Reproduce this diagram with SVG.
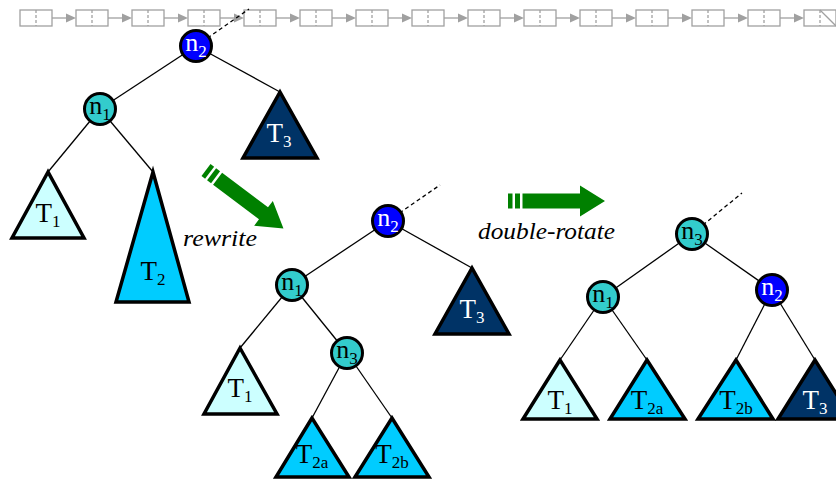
<svg xmlns="http://www.w3.org/2000/svg" xmlns:xlink="http://www.w3.org/1999/xlink" width="836" height="480" viewBox="0 0 836 480">
  <style>
    .cell rect, .cell line { fill: none; stroke: #a0a0a0; stroke-width: 1.3; }
    .cell .div { stroke-dasharray: 3 2; }
    .link { stroke: #a0a0a0; stroke-width: 1.3; }
    .edge { stroke: #000; stroke-width: 1.3; fill: none; }
    .dash { stroke-dasharray: 4 3; }
    .node circle { stroke: #000; stroke-width: 3; }
    .tri polygon { stroke: #000; stroke-width: 3.5; }
    .blue circle { fill: #0000ff; }
    .teal circle { fill: #33cccc; }
    .t-light polygon { fill: #ccffff; }
    .t-cyan polygon { fill: #00ccff; }
    .t-navy polygon { fill: #003366; }
    text { font-family: "Liberation Serif", "DejaVu Serif", serif; text-anchor: middle; }
    .nl { font-size: 26px; fill: #000; }
    .tl { font-size: 27px; fill: #000; }
    .light { fill: #fff; }
    .sub { font-size: 17px; }
    .cap { font-size: 24px; font-style: italic; text-anchor: start; fill: #000; }
  </style>
  <defs>
    <g id="cell" class="cell">
      <rect x="0" y="0" width="32" height="16"/>
      <line class="div" x1="16" y1="0" x2="16" y2="16"/>
    </g>
    <g id="link">
      <line class="link" x1="32" y1="8" x2="47" y2="8"/>
      <polygon points="46,3.5 56,8 46,12.5" fill="#a0a0a0"/>
    </g>
    <g id="bigArrow" fill="#008000">
      <rect x="0" y="-7.5" width="4.5" height="15"/>
      <rect x="7" y="-7.5" width="5" height="15"/>
      <path d="M14.5,-7.5 H72 V-15.5 L97,0 L72,15.5 V7.5 H14.5 Z"/>
    </g>
  </defs>

  <!-- linked list along the top -->
  <g id="list">
    <use xlink:href="#cell" x="20" y="10"/><use xlink:href="#link" x="20" y="10"/>
    <use xlink:href="#cell" x="76" y="10"/><use xlink:href="#link" x="76" y="10"/>
    <use xlink:href="#cell" x="132" y="10"/><use xlink:href="#link" x="132" y="10"/>
    <use xlink:href="#cell" x="188" y="10"/><use xlink:href="#link" x="188" y="10"/>
    <use xlink:href="#cell" x="244" y="10"/><use xlink:href="#link" x="244" y="10"/>
    <use xlink:href="#cell" x="300" y="10"/><use xlink:href="#link" x="300" y="10"/>
    <use xlink:href="#cell" x="356" y="10"/><use xlink:href="#link" x="356" y="10"/>
    <use xlink:href="#cell" x="412" y="10"/><use xlink:href="#link" x="412" y="10"/>
    <use xlink:href="#cell" x="468" y="10"/><use xlink:href="#link" x="468" y="10"/>
    <use xlink:href="#cell" x="524" y="10"/><use xlink:href="#link" x="524" y="10"/>
    <use xlink:href="#cell" x="580" y="10"/><use xlink:href="#link" x="580" y="10"/>
    <use xlink:href="#cell" x="636" y="10"/><use xlink:href="#link" x="636" y="10"/>
    <use xlink:href="#cell" x="692" y="10"/><use xlink:href="#link" x="692" y="10"/>
    <use xlink:href="#cell" x="748" y="10"/><use xlink:href="#link" x="748" y="10"/>
    <use xlink:href="#cell" x="804" y="10"/>
    <!-- null pointer slash in the last cell -->
    <line x1="820" y1="10" x2="836" y2="26" stroke="#a0a0a0" stroke-width="1.3"/>
  </g>

  <!-- connectors -->
  <g id="edges">
    <!-- tree before rewrite -->
    <line class="edge dash" x1="196" y1="46" x2="249" y2="9"/>
    <line class="edge" x1="196" y1="46" x2="100" y2="109"/>
    <line class="edge" x1="196" y1="46" x2="280" y2="92"/>
    <line class="edge" x1="100" y1="109" x2="48" y2="172"/>
    <line class="edge" x1="100" y1="109" x2="153" y2="172"/>
    <!-- rewritten tree -->
    <line class="edge dash" x1="388" y1="221" x2="440" y2="185"/>
    <line class="edge" x1="388" y1="221" x2="292" y2="285"/>
    <line class="edge" x1="388" y1="221" x2="472" y2="268"/>
    <line class="edge" x1="292" y1="285" x2="240" y2="348"/>
    <line class="edge" x1="292" y1="285" x2="347" y2="353"/>
    <line class="edge" x1="347" y1="353" x2="312" y2="418"/>
    <line class="edge" x1="347" y1="353" x2="392" y2="418"/>
    <!-- after double rotation -->
    <line class="edge dash" x1="692" y1="234" x2="742" y2="193"/>
    <line class="edge" x1="692" y1="234" x2="603" y2="297"/>
    <line class="edge" x1="692" y1="234" x2="772" y2="290"/>
    <line class="edge" x1="603" y1="297" x2="560" y2="360"/>
    <line class="edge" x1="603" y1="297" x2="647" y2="360"/>
    <line class="edge" x1="772" y1="290" x2="736" y2="360"/>
    <line class="edge" x1="772" y1="290" x2="815" y2="360"/>
  </g>

  <!-- transformation arrows -->
  <g id="rewrite">
    <use xlink:href="#bigArrow" transform="translate(206,170) rotate(37)"/>
    <text class="cap" x="183" y="246" textLength="74" lengthAdjust="spacingAndGlyphs">rewrite</text>
  </g>
  <g id="double-rotate">
    <use xlink:href="#bigArrow" transform="translate(508,201)"/>
    <text class="cap" x="478" y="239" textLength="137" lengthAdjust="spacingAndGlyphs">double-rotate</text>
  </g>

  <!-- tree before rewrite -->
  <g id="a-T1" class="tri t-light"><polygon points="48,172 12,238 84,238"/><text class="tl" x="48" y="222">T<tspan class="sub" dy="5">1</tspan></text></g>
  <g id="a-T2" class="tri t-cyan"><polygon points="153,172 116,302 189,302"/><text class="tl" x="153" y="280">T<tspan class="sub" dy="5">2</tspan></text></g>
  <g id="a-T3" class="tri t-navy"><polygon points="280,92 243,158 317,158"/><text class="tl light" x="279" y="142">T<tspan class="sub" dy="5">3</tspan></text></g>
  <g id="a-n2" class="node blue"><circle cx="196" cy="46" r="15.5"/><text class="nl light" x="196" y="51">n<tspan class="sub" dy="6">2</tspan></text></g>
  <g id="a-n1" class="node teal"><circle cx="100" cy="109" r="15.5"/><text class="nl" x="100" y="114">n<tspan class="sub" dy="6">1</tspan></text></g>

  <!-- rewritten tree -->
  <g id="b-T3" class="tri t-navy"><polygon points="472,268 435,334 509,334"/><text class="tl light" x="472" y="318">T<tspan class="sub" dy="5">3</tspan></text></g>
  <g id="b-T1" class="tri t-light"><polygon points="240,348 204,414 277,414"/><text class="tl" x="240" y="397">T<tspan class="sub" dy="5">1</tspan></text></g>
  <g id="b-T2a" class="tri t-cyan"><polygon points="312,418 276,477 349,477"/><text class="tl" x="312" y="463">T<tspan class="sub" dy="5">2a</tspan></text></g>
  <g id="b-T2b" class="tri t-cyan"><polygon points="392,418 355,477 429,477"/><text class="tl" x="392" y="463">T<tspan class="sub" dy="5">2b</tspan></text></g>
  <g id="b-n2" class="node blue"><circle cx="388" cy="221" r="15.5"/><text class="nl light" x="388" y="226">n<tspan class="sub" dy="6">2</tspan></text></g>
  <g id="b-n1" class="node teal"><circle cx="292" cy="285" r="15.5"/><text class="nl" x="292" y="290">n<tspan class="sub" dy="6">1</tspan></text></g>
  <g id="b-n3" class="node teal"><circle cx="347" cy="353" r="15.5"/><text class="nl" x="347" y="358">n<tspan class="sub" dy="6">3</tspan></text></g>

  <!-- tree after double rotation -->
  <g id="c-T1" class="tri t-light"><polygon points="560,360 523,419 597,419"/><text class="tl" x="560" y="409">T<tspan class="sub" dy="5">1</tspan></text></g>
  <g id="c-T2a" class="tri t-cyan"><polygon points="647,360 610,419 685,419"/><text class="tl" x="647" y="409">T<tspan class="sub" dy="5">2a</tspan></text></g>
  <g id="c-T2b" class="tri t-cyan"><polygon points="736,360 698,419 773,419"/><text class="tl" x="736" y="409">T<tspan class="sub" dy="5">2b</tspan></text></g>
  <g id="c-T3" class="tri t-navy"><polygon points="815,360 778,419 852,419"/><text class="tl light" x="815" y="409">T<tspan class="sub" dy="5">3</tspan></text></g>
  <g id="c-n3" class="node teal"><circle cx="692" cy="234" r="15.5"/><text class="nl" x="692" y="239">n<tspan class="sub" dy="6">3</tspan></text></g>
  <g id="c-n1" class="node teal"><circle cx="603" cy="297" r="15.5"/><text class="nl" x="603" y="302">n<tspan class="sub" dy="6">1</tspan></text></g>
  <g id="c-n2" class="node blue"><circle cx="772" cy="290" r="15.5"/><text class="nl light" x="772" y="295">n<tspan class="sub" dy="6">2</tspan></text></g>
</svg>
